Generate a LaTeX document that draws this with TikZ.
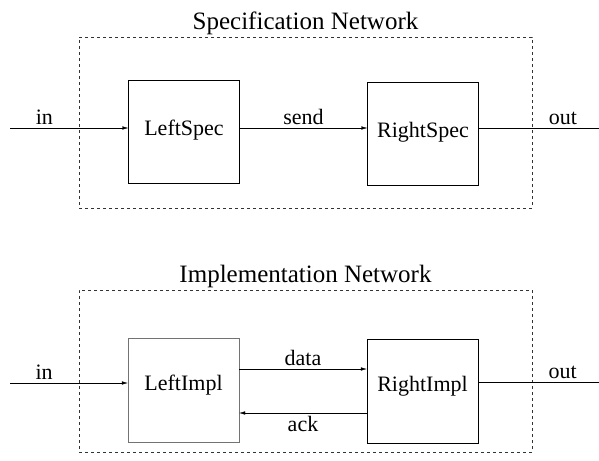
\documentclass[tikz,border=0pt]{standalone}
\usepackage{fontspec}
\setmainfont{Liberation Serif}
\usetikzlibrary{arrows.meta,positioning}

\begin{document}
\begin{tikzpicture}[
        x=1pt, y=-1pt,
        font=\fontsize{22}{24}\selectfont,
        title/.style={font=\fontsize{25}{28}\selectfont, inner sep=1pt},
        block/.style={rectangle, draw=black, inner sep=0pt, minimum width=111pt},
        specblock/.style={block, text height=55pt, text depth=48pt},
        implblock/.style={block, text height=52pt, text depth=52pt},
        netbox/.style={draw=black!80, dash pattern=on 3pt off 3pt, minimum width=453pt, inner sep=0pt},
        wire/.style={thin, -{Latex[length=6pt,width=3.5pt]}},
        label/.style={inner sep=3pt}
      ]
        \useasboundingbox (0,0) rectangle (599,460);

        % specification network
        \node (specnet) [netbox, minimum height=171pt] at (305.5,122.5) {};
        \node (spectitle) [title, above=1pt of specnet] {Specification Network};

        \node (leftspec) [specblock] at (184,131.5) {LeftSpec};
        \node (rightspec) [specblock] at (423,134) {RightSpec};

        \coordinate (specin) at (10,128);
        \coordinate (specout) at (599,128);

        \draw[wire] (specin) -- node[label, above, pos=0.29] {in} (specin -| leftspec.west);
        \draw[wire] (leftspec.east |- specin) -- node[label, above] {send} (rightspec.west |- specin);
        \draw[thin] (rightspec.east |- specin) -- node[label, above, pos=0.7] {out} (specout);

        % implementation network
        \node (implnet) [netbox, minimum height=162pt] at (305.5,371) {};
        \node (impltitle) [title, above=1pt of implnet] {Implementation Network};

        \node (leftimpl) [implblock, draw=black!55] at (183.5,390) {LeftImpl};
        \node (rightimpl) [implblock] at (422.5,391) {RightImpl};

        \coordinate (implin) at (10,383);
        \coordinate (implout) at (599,382);

        \draw[wire] (implin) -- node[label, above, pos=0.29] {in} (implin -| leftimpl.west);
        \draw[wire] ([yshift=14pt]leftimpl.east |- implin) -- node[label, above] {data} ([yshift=14pt]rightimpl.west |- implin);
        \draw[wire] ([yshift=-30pt]rightimpl.west |- implin) -- node[label, below] {ack} ([yshift=-30pt]leftimpl.east |- implin);
        \draw[thin] (rightimpl.east |- implout) -- node[label, above, pos=0.7] {out} (implout);
      \end{tikzpicture}
\end{document}
